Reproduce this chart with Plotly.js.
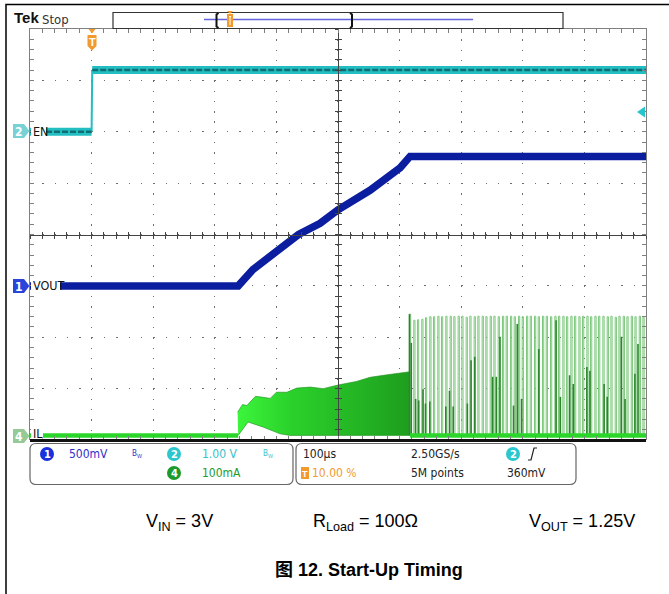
<!DOCTYPE html>
<html><head><meta charset="utf-8">
<script src="https://cdn.plot.ly/plotly-3.0.1.min.js"></script>
<style>html,body{margin:0;padding:0;background:#fff;}#chart{width:669px;height:594px;}</style>
</head><body><div id="chart"></div>
<script>
// ---- data (time in µs, ch1/ch2 in V, ch4 in mA) ----
const enTime = [-100, 0, 1, 900];
const enVolt = [0, 0, 1.2, 1.2];
const voutTime = [-100, 238, 262, 303, 336, 371, 400, 452, 479, 501, 517, 900];
const voutVolt = [0, 0, 0.16, 0.35, 0.50, 0.61, 0.74, 0.93, 1.06, 1.15, 1.26, 1.26];
const ilEnvTime = [237, 245, 252, 266, 279, 290, 300, 317, 333, 355, 376, 400, 430, 452, 480, 509, 517];
const ilEnvUpper = [45, 60, 58, 76, 74, 72, 84, 84, 92, 94, 91, 98, 105, 113, 118, 123, 124];
const ilGapTime = [238, 254, 279, 306, 322];
const ilGapLower = [0, 26, 16, 3, 0];
const ilBaseTime = [-100, 238, null, 517, 900];
const ilBase = [0, 0, null, 0, 0];
const pulseTime = [516, 523, 529, 536, 542, 549, 555, 562, 568, 575, 582, 588, 595, 601, 608, 614, 621, 627, 634, 640,
  647, 653, 660, 667, 673, 680, 686, 693, 699, 706, 712, 719, 725, 732, 738, 745, 752, 758, 765, 771,
  778, 784, 791, 797, 804, 810, 817, 823, 830, 837, 843, 850, 856, 863, 869, 876, 882, 889, 895];
const pulsePeak = [236, 224, 225, 226, 229, 231, 231, 232, 231, 232, 232, 231, 232, 232, 230, 232, 231, 232, 232, 231,
  232, 232, 231, 232, 232, 232, 231, 232, 231, 232, 232, 232, 231, 232, 232, 231, 232, 232, 232, 231,
  232, 232, 231, 232, 232, 231, 232, 232, 232, 231, 232, 230, 232, 232, 231, 232, 231, 232, 230];
const darkTime = [515, 518, 525, 530, 537, 541, 548, 574, 580, 586, 609, 615, 621, 650, 656, 662, 684, 690, 697, 725,
  753, 760, 775, 781, 803, 808, 831, 836, 859, 865, 881, 886];
const darkPeak = [236, 180, 71, 68, 90, 62, 66, 56, 87, 56, 62, 146, 153, 114, 114, 192, 58, 217, 71, 168,
  224, 75, 117, 100, 133, 126, 100, 75, 192, 71, 120, 178];

// ---- geometry helpers (pixel -> paper) ----
const L = 30, T = 29, W = 616, H = 411;
const fx = px => (px - L) / W, fy = py => (T + H - py) / H;
const FONT = "'Liberation Sans Narrow', 'DejaVu Sans Condensed', 'Arial Narrow', 'Liberation Sans', sans-serif";
const ARIAL = "'Liberation Sans', Arial, 'Noto Sans CJK SC', sans-serif";

function pt(p) { return fx(p[0]) + ',' + fy(p[1]); }
function path(points, closed, opts) {
  let d = 'M' + pt(points[0]);
  for (let i = 1; i < points.length; i++) d += ' L' + pt(points[i]);
  if (closed) d += ' Z';
  return Object.assign({type: 'path', xref: 'paper', yref: 'paper', path: d, layer: 'above'}, opts);
}
function rect(x0, y0, x1, y1, opts) {
  return Object.assign({type: 'rect', xref: 'paper', yref: 'paper', x0: fx(x0), x1: fx(x1), y0: fy(y1), y1: fy(y0), layer: 'above'}, opts);
}
function circle(cx, cy, r, color) {
  return {type: 'circle', xref: 'paper', yref: 'paper', x0: fx(cx - r), x1: fx(cx + r), y0: fy(cy + r), y1: fy(cy - r),
    fillcolor: color, line: {width: 0}, layer: 'above'};
}
function rrect(x0, y0, x1, y1, r, opts) {
  const d = 'M' + pt([x0 + r, y0]) + ' L' + pt([x1 - r, y0]) + ' Q' + pt([x1, y0]) + ' ' + pt([x1, y0 + r]) +
    ' L' + pt([x1, y1 - r]) + ' Q' + pt([x1, y1]) + ' ' + pt([x1 - r, y1]) +
    ' L' + pt([x0 + r, y1]) + ' Q' + pt([x0, y1]) + ' ' + pt([x0, y1 - r]) +
    ' L' + pt([x0, y0 + r]) + ' Q' + pt([x0, y0]) + ' ' + pt([x0 + r, y0]) + ' Z';
  return Object.assign({type: 'path', xref: 'paper', yref: 'paper', path: d, layer: 'above'}, opts);
}
function txt(px, py, text, size, color, opts) {
  return Object.assign({xref: 'paper', yref: 'paper', x: fx(px), y: fy(py), xanchor: 'left', yanchor: 'middle',
    showarrow: false, text: text, font: {family: FONT, size: size, color: color}}, opts || {});
}

// ---- traces ----
const XR = [-100, 900], YR = [-4, 4];
// invisible anchors so that every graticule axis gets its own subplot
const anchorPairs = [['x', 'y'], ['x2', 'y'], ['x3', 'y'], ['x4', 'y'], ['x5', 'y'], ['x', 'y2'], ['x', 'y3'], ['x', 'y4'], ['x', 'y5']];
const traces = anchorPairs.map(p => ({x: [XR[0]], y: [YR[0]], xaxis: p[0], yaxis: p[1], mode: 'markers',
  marker: {opacity: 0, size: 1}}));

const envX = ilEnvTime.concat([517]).concat(ilGapTime.slice().reverse());
const envY = ilEnvUpper.concat([0]).concat(ilGapLower.slice().reverse());
const px = [], py = [];
pulseTime.forEach((t, i) => { px.push(t, t, t + 2, t + 2, null); py.push(0, pulsePeak[i], pulsePeak[i], 0, null); });
const dx = [], dy = [];
darkTime.forEach((t, i) => { dx.push(t + 1, t + 1, null); dy.push(0, darkPeak[i], null); });

const CY = '#22BEC2';
traces.push(
  {x: envX, y: envY, yaxis: 'y8', mode: 'lines', fill: 'toself', fillcolor: '#2CC82C',
   fillgradient: {type: 'horizontal', colorscale: [[0, '#3CF53C'], [0.3, '#2BD22B'], [1, '#1E9E1E']]},
   line: {width: 0.6, color: '#1C8C1C'}},
  {x: px, y: py, yaxis: 'y8', mode: 'lines', line: {width: 1, color: '#7CC87C'}},
  {x: dx, y: dy, yaxis: 'y8', mode: 'lines', line: {width: 1.6, color: '#2C862C'}},
  {x: ilBaseTime, y: ilBase, yaxis: 'y8', mode: 'lines', line: {width: 4.5, color: '#2AD62A'}, connectgaps: false},
  {x: voutTime, y: voutVolt, yaxis: 'y6', mode: 'lines', line: {width: 7.5, color: '#0C1EA0'}},
  {x: enTime.slice(0, 2), y: enVolt.slice(0, 2), yaxis: 'y7', mode: 'lines', line: {width: 8, color: CY}},
  {x: enTime.slice(1, 3), y: enVolt.slice(1, 3), yaxis: 'y7', mode: 'lines', line: {width: 2, color: CY}},
  {x: enTime.slice(2), y: enVolt.slice(2), yaxis: 'y7', mode: 'lines', line: {width: 8, color: CY}},
  {x: enTime.slice(0, 2), y: enVolt.slice(0, 2), yaxis: 'y7', mode: 'lines', line: {width: 2.5, color: '#0E6E74', dash: '6px,2px'}},
  {x: enTime.slice(2), y: enVolt.slice(2), yaxis: 'y7', mode: 'lines', line: {width: 2.5, color: '#0E6E74', dash: '6px,2px'}}
);
traces.forEach(t => { t.hoverinfo = 'skip'; t.showlegend = false; });

// ---- axes ----
const hid = {showticklabels: false, zeroline: false, showgrid: false, fixedrange: true};
const bt = {overlaying: 'x', range: XR, dtick: 20, tick0: -100, tickcolor: '#808080'};
const lt = {overlaying: 'y', range: YR, dtick: 0.2, tick0: -4, tickcolor: '#808080'};
const layout = {
  width: 669, height: 594, margin: {l: L, r: 669 - L - W, t: T, b: 594 - T - H, pad: 0},
  paper_bgcolor: '#ffffff', plot_bgcolor: '#ffffff', showlegend: false,
  xaxis: Object.assign({}, hid, {range: XR, dtick: 100, tick0: -100, showgrid: true, gridcolor: '#6e6e6e', gridwidth: 1.2, griddash: '1.3px,8.975px', ticks: ''}),
  xaxis2: Object.assign({}, hid, bt, {ticks: 'inside', ticklen: 4, side: 'bottom', anchor: 'y', showline: false}),
  xaxis3: Object.assign({}, hid, bt, {ticks: 'inside', ticklen: 4, side: 'top', anchor: 'y', showline: true, linecolor: '#808080', linewidth: 1}),
  xaxis4: Object.assign({}, hid, bt, {ticks: 'inside', ticklen: 3, tickcolor: '#444', anchor: 'free', position: 0.5, showline: true, linecolor: '#444', linewidth: 1}),
  xaxis5: Object.assign({}, hid, bt, {ticks: 'outside', ticklen: 3, tickcolor: '#444', anchor: 'free', position: 0.5, showline: false}),
  yaxis: Object.assign({}, hid, {range: YR, dtick: 1, tick0: -4, showgrid: true, gridcolor: '#6e6e6e', gridwidth: 1.2, griddash: '1.3px,11.02px', ticks: ''}),
  yaxis2: Object.assign({}, hid, lt, {ticks: 'inside', ticklen: 4, side: 'left', anchor: 'x', showline: true, linecolor: '#808080', linewidth: 1}),
  yaxis3: Object.assign({}, hid, lt, {ticks: 'inside', ticklen: 4, side: 'right', anchor: 'x', showline: true, linecolor: '#808080', linewidth: 1}),
  yaxis4: Object.assign({}, hid, lt, {ticks: 'inside', ticklen: 3, tickcolor: '#444', anchor: 'free', position: 0.5, side: 'left', showline: true, linecolor: '#444', linewidth: 1}),
  yaxis5: Object.assign({}, hid, lt, {ticks: 'outside', ticklen: 3, tickcolor: '#444', anchor: 'free', position: 0.5, side: 'left', showline: false}),
  yaxis6: Object.assign({}, hid, {overlaying: 'y', range: [-1.5, 2.5], visible: false}),
  yaxis7: Object.assign({}, hid, {overlaying: 'y', range: [-6, 2], visible: false}),
  yaxis8: Object.assign({}, hid, {overlaying: 'y', range: [-9, 791], visible: false}),
  shapes: [],
  annotations: []
};

const S = layout.shapes, A = layout.annotations;
// outer frame
S.push(path([[6, 594], [6, 4.5], [669, 4.5]], false, {line: {color: '#000', width: 1.5}}));
// label covers and bottom black line
S.push(rect(31, 123, 46, 139, {fillcolor: '#fff', line: {width: 0}}));
S.push(rect(31, 277, 60, 293, {fillcolor: '#fff', line: {width: 0}}));
S.push(rect(31, 427, 43, 438.5, {fillcolor: '#fff', line: {width: 0}}));
S.push(path([[30, 440.5], [646, 440.5]], false, {line: {color: '#111', width: 3}}));
// channel markers
S.push(path([[13, 124], [24, 124], [29.5, 131], [24, 138], [13, 138]], true, {fillcolor: '#78D2D5', line: {width: 0}}));
S.push(path([[13, 279], [24, 279], [29.5, 286], [24, 293], [13, 293]], true, {fillcolor: '#2A45DA', line: {width: 0}}));
S.push(path([[13, 429], [24, 429], [29.5, 436], [24, 443], [13, 443]], true, {fillcolor: '#95C995', line: {width: 0}}));
A.push(txt(18.5, 131.5, '<b>2</b>', 12, '#fff', {xanchor: 'center'}));
A.push(txt(18.5, 286.5, '<b>1</b>', 12, '#fff', {xanchor: 'center'}));
A.push(txt(18.5, 436.5, '<b>4</b>', 12, '#fff', {xanchor: 'center'}));
A.push(txt(31, 131, 'EN', 12.5, '#111'));
A.push(txt(31, 285, 'VOUT', 12.5, '#111'));
A.push(txt(31, 433.5, 'IL', 12.5, '#111'));
// trigger marker on graticule
S.push(path([[88.5, 29], [95.5, 29], [92, 33.5]], true, {fillcolor: '#F29A2E', line: {width: 0}}));
S.push(path([[87.5, 35], [96.5, 35], [96.5, 46], [92, 50.5], [87.5, 46]], true, {fillcolor: '#F29A2E', line: {width: 0}}));
A.push(txt(92, 42, '<b>T</b>', 11, '#fff', {xanchor: 'center', font: {family: ARIAL, size: 11, color: '#fff'}}));
// trigger level arrow (right)
S.push(path([[637, 112], [645, 106.5], [645, 117.5]], true, {fillcolor: '#26C4CC', line: {width: 0}}));
// top header
A.push(txt(12, 18, '<b>Tek</b>', 15, '#111', {font: {family: ARIAL, size: 15, color: '#111'}}));
A.push(txt(40, 19, 'Stop', 13, '#333'));
S.push(rect(113, 12.5, 563, 28.5, {fillcolor: 'rgba(0,0,0,0)', line: {color: '#333', width: 1.2}}));
S.push(path([[204, 19.5], [473, 19.5]], false, {line: {color: '#6464DC', width: 1.5}}));
S.push(path([[218.5, 13], [216.5, 14.5], [216.5, 26.5], [218.5, 28]], false, {line: {color: '#111', width: 2}}));
S.push(path([[350, 13], [352, 14.5], [352, 26.5], [350, 28]], false, {line: {color: '#111', width: 2}}));
S.push(path([[227, 11], [233, 11], [230, 14]], true, {fillcolor: '#F29A2E', line: {width: 0}}));
S.push(rect(227, 14, 233, 27, {fillcolor: '#F29A2E', line: {width: 0}}));
S.push(path([[229, 16.5], [231, 16.5], [230, 16.5], [230, 25]], false, {line: {color: '#fff', width: 1}}));
// info panels
S.push(rrect(30, 443.5, 293, 484.5, 6, {fillcolor: 'rgba(0,0,0,0)', line: {color: '#666', width: 1.2}}));
S.push(rrect(296, 443.5, 576, 484.5, 6, {fillcolor: 'rgba(0,0,0,0)', line: {color: '#666', width: 1.2}}));
S.push(circle(47, 454, 7, '#1A30DC'));
A.push(txt(47, 454.5, '<b>1</b>', 11, '#fff', {xanchor: 'center'}));
A.push(txt(67, 454, '500mV', 12, '#3030C8'));
A.push(txt(130, 454, 'B<sub>W</sub>', 8, '#3030C8'));
S.push(circle(174, 454, 7, '#2CC6CF'));
A.push(txt(174, 454.5, '<b>2</b>', 11, '#fff', {xanchor: 'center'}));
A.push(txt(200, 454, '1.00 V', 12, '#36C2CA'));
A.push(txt(261, 454, 'B<sub>W</sub>', 8, '#36C2CA'));
S.push(circle(174, 473, 7, '#1C9A2C'));
A.push(txt(174, 473.5, '<b>4</b>', 11, '#fff', {xanchor: 'center'}));
A.push(txt(200, 473, '100mA', 12, '#1E9A2A'));
A.push(txt(301, 454, '100µs', 12, '#222'));
S.push(rect(301, 467, 309, 479, {fillcolor: '#F29A2E', line: {width: 0}}));
A.push(txt(305, 473.5, '<b>T</b>', 9, '#fff', {xanchor: 'center', font: {family: ARIAL, size: 9, color: '#fff'}}));
A.push(txt(310, 473, '10.00 %', 12, '#F29A2E'));
A.push(txt(409, 454, '2.50GS/s', 12, '#222'));
A.push(txt(409, 473, '5M points', 12, '#222'));
S.push(circle(513, 454, 7, '#2CC6CF'));
A.push(txt(513, 454.5, '<b>2</b>', 11, '#fff', {xanchor: 'center'}));
S.push(path([[528, 460], [531, 460], [534, 448], [537, 448]], false, {line: {color: '#222', width: 1.2}}));
A.push(txt(505, 473, '360mV', 12, '#222'));
// conditions and caption
const AF = {family: ARIAL, size: 18, color: '#000'};
A.push(txt(144, 522, 'V<sub>IN</sub> = 3V', 18, '#000', {font: AF}));
A.push(txt(311, 522, 'R<sub>Load</sub> = 100Ω', 18, '#000', {font: AF}));
A.push(txt(527, 522, 'V<sub>OUT</sub> = 1.25V', 18, '#000', {font: AF}));
A.push(txt(369, 570, '<b>图 12. Start-Up Timing</b>', 18, '#000', {xanchor: 'center', font: AF}));

Plotly.newPlot('chart', traces, layout, {staticPlot: true, displayModeBar: false});
</script></body></html>
